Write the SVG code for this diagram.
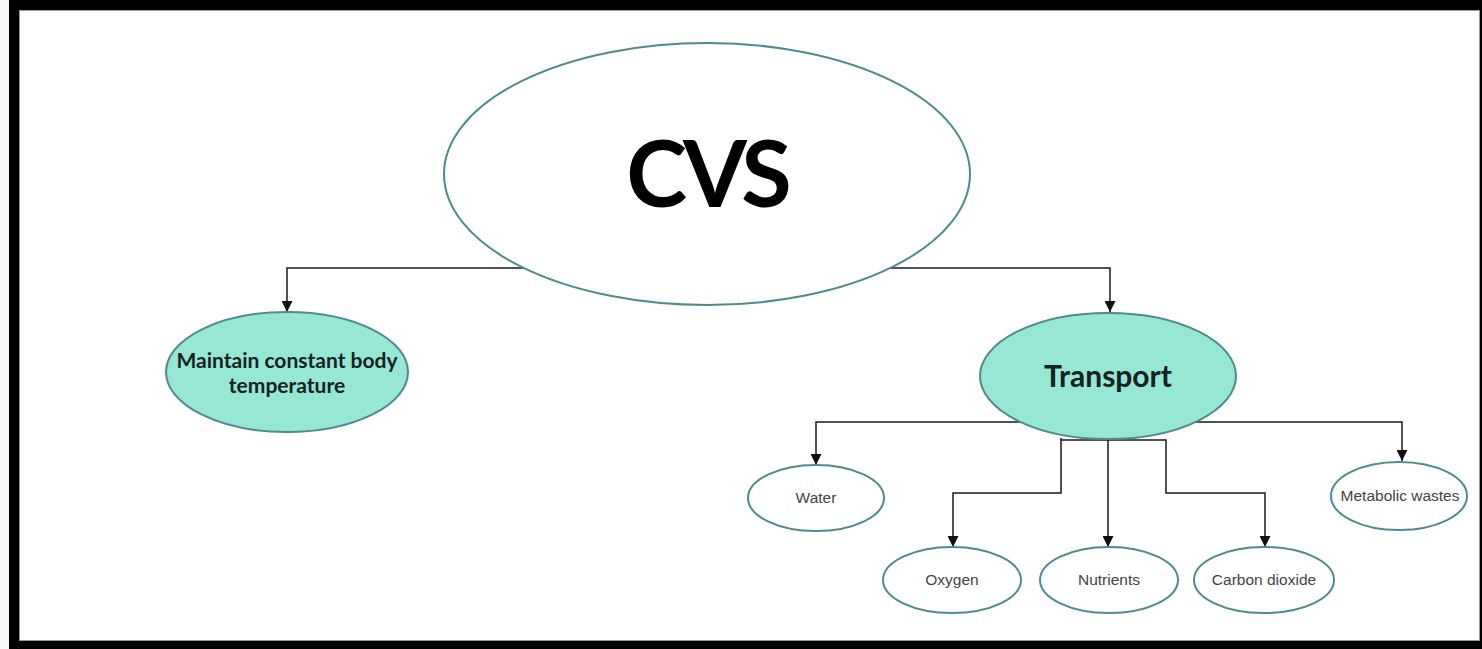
<svg xmlns="http://www.w3.org/2000/svg" width="1482" height="649" viewBox="0 0 1482 649">
<style>
.node{stroke:#4f8a8e;stroke-width:2}
.big{fill:#96e8d4}
.plain{fill:#ffffff}
.conn{fill:none;stroke:#1a1a1a;stroke-width:1.5}
.small{font-family:"Liberation Sans",Arial,sans-serif;font-size:15.5px;fill:#444;text-anchor:middle}
.bold{font-family:Lato,"Open Sans",sans-serif;font-weight:bold;fill:#152222;text-anchor:middle}
.title{fill:#000}
</style>
<defs>
<marker id="arr" viewBox="0 0 10 10" refX="10" refY="5" markerWidth="11" markerHeight="11" markerUnits="userSpaceOnUse" orient="auto">
<path d="M0,0 L10,5 L0,10 Z" fill="#111"/>
</marker>
</defs>
<rect x="0" y="0" width="1482" height="649" fill="#000"/>
<rect x="0" y="0" width="9" height="649" fill="#f7f7f7"/>
<rect x="19.5" y="10.5" width="1460" height="630" fill="#fff" stroke="#9a9a9a" stroke-width="1"/>
<g id="connectors">
<path class="conn" d="M524,268 H287 V312" marker-end="url(#arr)"/>
<path class="conn" d="M890,268 H1110 V312" marker-end="url(#arr)"/>
<path class="conn" d="M1021,422 H816 V465" marker-end="url(#arr)"/>
<path class="conn" d="M1195,422 H1402 V461" marker-end="url(#arr)"/>
<path class="conn" d="M1061,438 V493 H953 V547" marker-end="url(#arr)"/>
<path class="conn" d="M1108,438 V547" marker-end="url(#arr)"/>
<path class="conn" d="M1061,440 H1166 V493 H1265 V547" marker-end="url(#arr)"/>
</g>
<g id="cvs">
<ellipse class="node plain" cx="707" cy="174" rx="263" ry="131"/>
<text class="bold title" x="707" y="207" font-size="92" letter-spacing="-4">CVS</text>
</g>
<g id="maintain">
<ellipse class="node big" cx="287" cy="372" rx="121" ry="60"/>
<text class="bold" x="287" y="368" font-size="21">Maintain constant body</text>
<text class="bold" x="287" y="393" font-size="21">temperature</text>
</g>
<g id="transport">
<ellipse class="node big" cx="1108" cy="376" rx="128" ry="63"/>
<text class="bold" x="1108" y="387" font-size="30">Transport</text>
</g>
<g id="water">
<ellipse class="node plain" cx="816" cy="498" rx="68" ry="33"/>
<text class="small" x="816" y="503">Water</text>
</g>
<g id="oxygen">
<ellipse class="node plain" cx="952" cy="580" rx="69" ry="33"/>
<text class="small" x="952" y="585">Oxygen</text>
</g>
<g id="nutrients">
<ellipse class="node plain" cx="1109" cy="580" rx="69" ry="33"/>
<text class="small" x="1109" y="585">Nutrients</text>
</g>
<g id="carbon">
<ellipse class="node plain" cx="1264" cy="580" rx="70" ry="33"/>
<text class="small" x="1264" y="585">Carbon dioxide</text>
</g>
<g id="metabolic">
<ellipse class="node plain" cx="1399" cy="496" rx="68" ry="34"/>
<text class="small" x="1400" y="501">Metabolic wastes</text>
</g>
</svg>
